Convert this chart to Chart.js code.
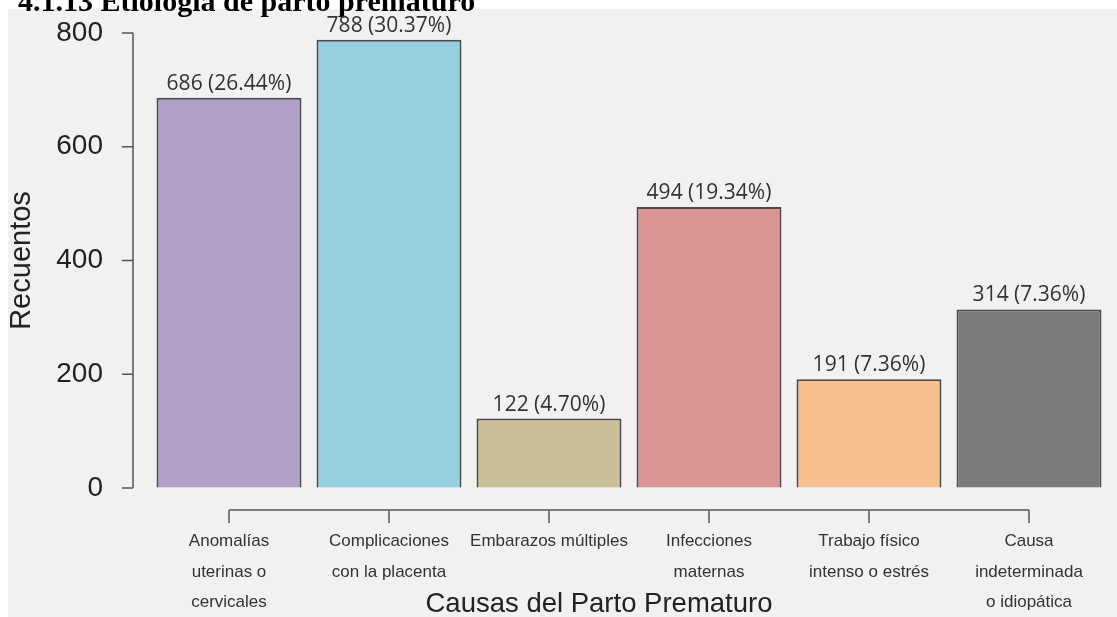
<!DOCTYPE html>
<html>
<head>
<meta charset="utf-8">
<title>Etiología de parto prematuro</title>
<script src="https://cdn.jsdelivr.net/npm/chart.js@4.4.1/dist/chart.umd.min.js"></script>
<style>
  html, body { margin: 0; padding: 0; background: #ffffff; }
  #wrap { width: 1117px; height: 617px; }
</style>
</head>
<body>
<div id="wrap"><canvas id="chart" width="1117" height="617"></canvas></div>
<script>
// -----------------------------
// Data
// -----------------------------
const categories = [
  ['Anomalías', 'uterinas o', 'cervicales'],
  ['Complicaciones', 'con la placenta'],
  ['Embarazos múltiples'],
  ['Infecciones', 'maternas'],
  ['Trabajo físico', 'intenso o estrés'],
  ['Causa', 'indeterminada', 'o idiopática']
];
const counts = [686, 788, 122, 494, 191, 314];
const percentLabels = ['26.44%', '30.37%', '4.70%', '19.34%', '7.36%', '7.36%'];
const yTicks = [0, 200, 400, 600, 800];

const barColors = ['#b19fc8', '#95cfe0', '#c9bf98', '#d99494', '#f8bf8e', '#7a7a7a'];

const chartTitle = '4.1.13 Etiología de parto prematuro';
const xTitle = 'Causas del Parto Prematuro';
const yTitle = 'Recuentos';

const SANS = '"Liberation Sans", Arial, sans-serif';

// -----------------------------
// Background panel + page heading
// -----------------------------
const backdrop = {
  id: 'backdrop',
  beforeDraw(chart) {
    const { ctx } = chart;
    ctx.save();
    ctx.fillStyle = '#f1f1f1';
    ctx.fillRect(8, 9, chart.width - 8, chart.height - 9);
    ctx.fillStyle = '#000000';
    ctx.font = 'bold 30px "Liberation Serif", "Times New Roman", serif';
    ctx.textAlign = 'left';
    ctx.textBaseline = 'alphabetic';
    ctx.fillText(chartTitle, 18, 11);
    ctx.restore();
  }
};

// -----------------------------
// Base-style detached axes (line + tick marks)
// -----------------------------
const detachedAxes = {
  id: 'detachedAxes',
  afterDraw(chart) {
    const { ctx, chartArea } = chart;
    const xs = chart.scales.x, ys = chart.scales.y;
    ctx.save();
    ctx.strokeStyle = '#555555';
    ctx.lineWidth = 1.5;

    // y axis
    const ax = chartArea.left - 16;
    ctx.beginPath();
    ctx.moveTo(ax, ys.getPixelForValue(yTicks[yTicks.length - 1]));
    ctx.lineTo(ax, ys.getPixelForValue(yTicks[0]));
    yTicks.forEach(v => {
      const py = ys.getPixelForValue(v);
      ctx.moveTo(ax - 11, py);
      ctx.lineTo(ax, py);
    });
    ctx.stroke();

    // x axis
    const ay = chartArea.bottom + 22;
    const first = xs.getPixelForValue(0);
    const last = xs.getPixelForValue(categories.length - 1);
    ctx.beginPath();
    ctx.moveTo(first, ay);
    ctx.lineTo(last, ay);
    categories.forEach((c, i) => {
      const px = xs.getPixelForValue(i);
      ctx.moveTo(px, ay);
      ctx.lineTo(px, ay + 13);
    });
    ctx.stroke();

    // x axis title
    ctx.fillStyle = '#222222';
    ctx.font = '27.5px ' + SANS;
    ctx.textAlign = 'center';
    ctx.textBaseline = 'alphabetic';
    ctx.fillText(xTitle, 599, 612);
    ctx.restore();
  }
};

// -----------------------------
// Value labels above bars
// -----------------------------
const valueLabels = {
  id: 'valueLabels',
  afterDatasetsDraw(chart) {
    const { ctx } = chart;
    const meta = chart.getDatasetMeta(0);
    ctx.save();
    ctx.fillStyle = '#333333';
    ctx.font = '21px "Open Sans", sans-serif';
    ctx.textAlign = 'center';
    ctx.textBaseline = 'alphabetic';
    meta.data.forEach((bar, i) => {
      ctx.fillText(counts[i] + ' (' + percentLabels[i] + ')', bar.x, bar.y - 8);
    });
    ctx.restore();
  }
};

new Chart(document.getElementById('chart'), {
  type: 'bar',
  data: {
    labels: categories,
    datasets: [{
      data: counts,
      backgroundColor: barColors,
      borderColor: '#4a4a4a',
      borderWidth: 2,
      barPercentage: 0.906,
      categoryPercentage: 1
    }]
  },
  options: {
    responsive: false,
    animation: false,
    layout: { padding: { top: 33, right: 8, bottom: 0, left: 0 } },
    plugins: {
      legend: { display: false },
      tooltip: { enabled: false }
    },
    scales: {
      x: {
        // invisible tick marks only reserve the gap above the labels
        grid: { display: true, drawOnChartArea: false, drawTicks: true, tickLength: 38, tickColor: 'rgba(0,0,0,0)' },
        border: { display: false },
        ticks: {
          color: '#333333',
          padding: 0,
          maxRotation: 0,
          autoSkip: false,
          font: { family: SANS, size: 17, lineHeight: 1.8 }
        },
        afterFit(scale) { scale.height = 129; }
      },
      y: {
        min: 0,
        max: 800,
        grid: { display: true, drawOnChartArea: false, drawTicks: true, tickLength: 46, tickColor: 'rgba(0,0,0,0)' },
        border: { display: false },
        ticks: {
          stepSize: 200,
          color: '#222222',
          padding: 0,
          font: { family: SANS, size: 28 }
        },
        title: {
          display: true,
          text: yTitle,
          color: '#222222',
          padding: { top: 5, bottom: 0 },
          font: { family: SANS, size: 29 }
        },
        afterFit(scale) { scale.width = 149; }
      }
    }
  },
  plugins: [backdrop, detachedAxes, valueLabels]
});
</script>
</body>
</html>
